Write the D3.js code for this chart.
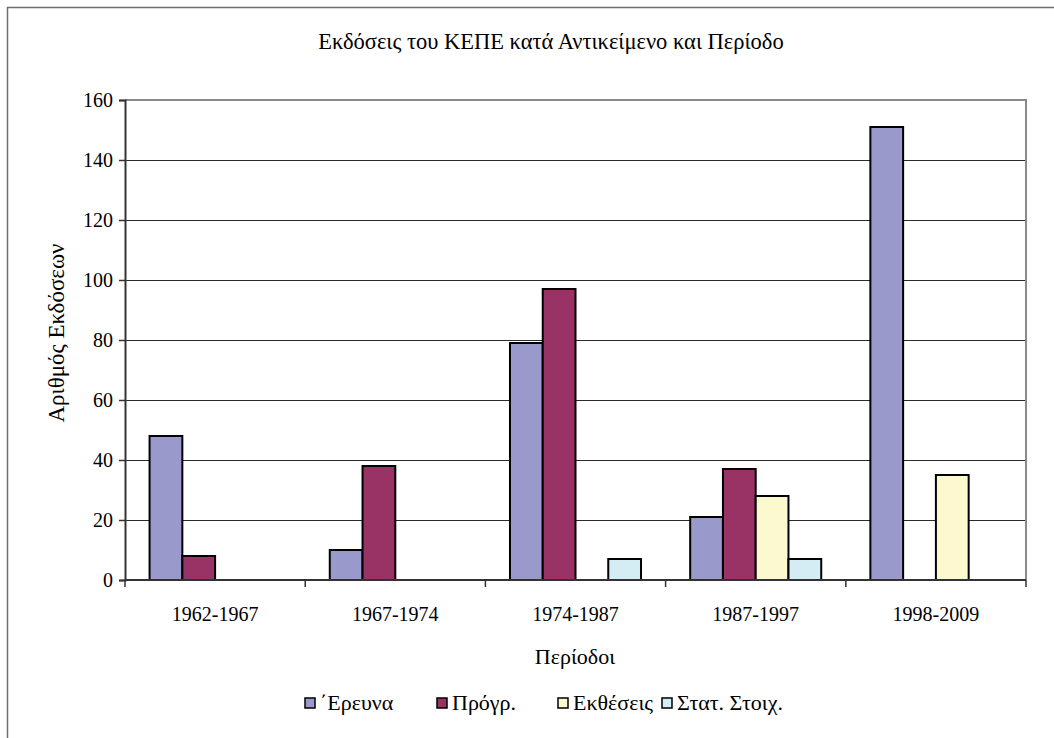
<!DOCTYPE html>
<html>
<head>
<meta charset="utf-8">
<script src="https://cdn.jsdelivr.net/npm/d3@7"></script>
<style>
  html, body { margin: 0; padding: 0; background: #fff; }
  svg { display: block; }
  text { font-family: "Liberation Serif", "Times New Roman", serif; fill: #000; }
</style>
</head>
<body>
<svg id="chart" width="1054" height="738"></svg>
<script>
// Publications per period, by subject
const periods = ["1962-1967", "1967-1974", "1974-1987", "1987-1997", "1998-2009"];
const seriesNames = ["΄Ερευνα", "Πρόγρ.", "Εκθέσεις", "Στατ. Στοιχ."];
const research   = [48, 10, 79, 21, 151];
const programmes = [8, 38, 97, 37, 0];
const reports    = [0, 0, 0, 28, 35];
const statistics = [0, 0, 7, 7, 0];
const seriesValues = [research, programmes, reports, statistics];
const seriesColors = ["#9999cc", "#993366", "#fcf9cf", "#d4ecf3"];
const yTicks = [0, 20, 40, 60, 80, 100, 120, 140, 160];

const svg = d3.select("#chart");
const plot = { left: 125, right: 1026, top: 100, bottom: 580 };

// outer chart frame
svg.append("rect")
  .attr("x", 7.5).attr("y", 7.5)
  .attr("width", 1060).attr("height", 760)
  .attr("fill", "none").attr("stroke", "#6e6e6e").attr("stroke-width", 1.5);

const x = d3.scaleBand().domain(periods).range([plot.left, plot.right]).padding(0);
const barW = x.bandwidth() / (seriesNames.length + 1.5);
const inner = d3.scaleBand().domain(d3.range(seriesNames.length))
  .range([0, barW * seriesNames.length]);
const y = d3.scaleLinear().domain([0, 160]).range([plot.bottom, plot.top]);

// gridlines
svg.append("g").selectAll("line").data(yTicks.filter(d => d > 0)).join("line")
  .attr("x1", plot.left).attr("x2", plot.right)
  .attr("y1", d => Math.round(y(d)) + 0.5).attr("y2", d => Math.round(y(d)) + 0.5)
  .attr("stroke", "#2a2a2a").attr("stroke-width", 1.2);

// plot area border (top/right)
svg.append("path")
  .attr("d", `M${plot.left},${plot.top}H${plot.right}V${plot.bottom}`)
  .attr("fill", "none").attr("stroke", "#8a8a8a").attr("stroke-width", 2);

// bars
const groups = svg.append("g").selectAll("g").data(periods).join("g")
  .attr("transform", d => `translate(${x(d) + barW * 0.75},0)`);
groups.selectAll("rect")
  .data((p, i) => seriesValues.map((vals, s) => ({ s, v: vals[i] })).filter(d => d.v > 0))
  .join("rect")
  .attr("x", d => inner(d.s))
  .attr("width", barW)
  .attr("y", d => y(d.v))
  .attr("height", d => y(0) - y(d.v))
  .attr("fill", d => seriesColors[d.s])
  .attr("stroke", "#000").attr("stroke-width", 2);

// y axis
const yAxis = d3.axisLeft(y).tickValues(yTicks).tickSize(6).tickPadding(6);
const yg = svg.append("g").attr("transform", `translate(${plot.left},0)`).call(yAxis);
yg.select(".domain").attr("stroke", "#333").attr("stroke-width", 2);
yg.selectAll(".tick line").attr("stroke", "#333").attr("stroke-width", 1.5);
yg.selectAll(".tick text")
  .attr("font-family", "Liberation Serif").attr("font-size", 20).attr("fill", "#000");

// x axis with ticks between categories
const xg = svg.append("g").attr("transform", `translate(0,${plot.bottom})`);
xg.append("line").attr("x1", plot.left).attr("x2", plot.right)
  .attr("stroke", "#333").attr("stroke-width", 2);
const bounds = periods.map(p => x(p)).concat([x(periods[periods.length - 1]) + x.bandwidth()]);
xg.selectAll(".xt").data(bounds).join("line").attr("class", "xt")
  .attr("x1", d => d).attr("x2", d => d).attr("y1", 0).attr("y2", 7)
  .attr("stroke", "#333").attr("stroke-width", 1.5);
xg.selectAll(".xl").data(periods).join("text").attr("class", "xl")
  .attr("x", d => x(d) + x.bandwidth() / 2).attr("y", 41)
  .attr("text-anchor", "middle").attr("font-size", 20)
  .text(d => d);

// titles
svg.append("text").attr("x", 551).attr("y", 49).attr("text-anchor", "middle")
  .attr("font-size", 22.5).text("Εκδόσεις του ΚΕΠΕ κατά Αντικείμενο και Περίοδο");
svg.append("text").attr("transform", "translate(64,333) rotate(-90)")
  .attr("text-anchor", "middle").attr("font-size", 23).text("Αριθμός Εκδόσεων");
svg.append("text").attr("x", 575).attr("y", 664).attr("text-anchor", "middle")
  .attr("font-size", 22).text("Περίοδοι");

// legend
const legendX = [305, 437, 558, 662];
const lg = svg.append("g").selectAll("g").data(seriesNames).join("g")
  .attr("transform", (d, i) => `translate(${legendX[i]},698)`);
lg.append("rect").attr("width", 10).attr("height", 10)
  .attr("fill", (d, i) => seriesColors[i]).attr("stroke", "#000").attr("stroke-width", 1.5);
lg.append("text").attr("x", 15).attr("y", 12).attr("font-size", 22).text(d => d);
</script>
</body>
</html>
